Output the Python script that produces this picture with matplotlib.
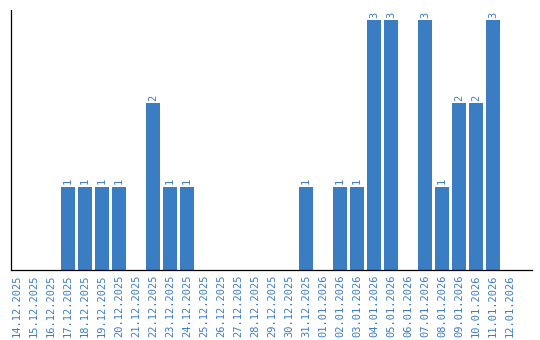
import matplotlib
matplotlib.use("Agg")
import matplotlib.pyplot as plt
from datetime import date, timedelta

# data
start = date(2025, 12, 14)
dates = [(start + timedelta(days=i)).strftime("%d.%m.%Y") for i in range(30)]
counts = [0, 0, 0, 1, 1, 1, 1, 0, 2, 1, 1, 0, 0, 0, 0, 0, 0, 1, 0,
          1, 1, 3, 3, 0, 3, 1, 2, 2, 3, 0]

blue = "#3b7dc3"

fig = plt.figure(figsize=(5.4, 3.4), dpi=100)
ax = fig.add_axes([11 / 540, 70 / 340, 521 / 540, 260 / 340])

x = list(range(len(dates)))
ax.bar(x, counts, width=0.82, color=blue)

# value labels above bars
for i, v in enumerate(counts):
    if v > 0:
        ax.text(i, v + 0.03, str(v), rotation=90, ha="center", va="bottom",
                color=blue, fontsize=7.5, family="DejaVu Sans Mono")

ax.set_xlim(-0.35, 30.3)
ax.set_ylim(0, 3.12)
ax.set_xticks(x)
ax.set_xticklabels(dates, rotation=90, color=blue, fontsize=7.5,
                   family="DejaVu Sans Mono")
ax.tick_params(axis="x", length=0, pad=3)
ax.set_yticks([])
ax.spines["top"].set_visible(False)
ax.spines["right"].set_visible(False)
ax.spines["left"].set_linewidth(0.9)
ax.spines["bottom"].set_linewidth(0.9)

fig.savefig("out.png", dpi=100)
